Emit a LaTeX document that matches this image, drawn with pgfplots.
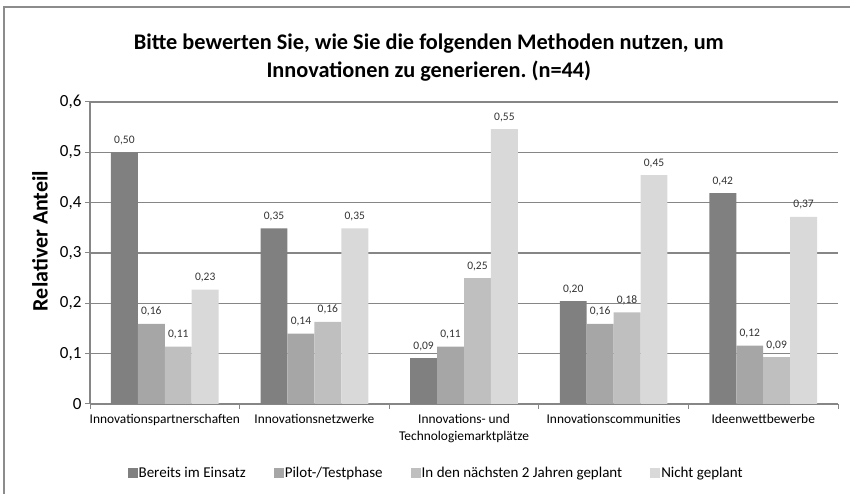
\documentclass[border=0pt]{standalone}
\usepackage{fontspec}
\setmainfont{Carlito}
\usepackage{pgfplots}
\pgfplotsset{compat=1.18}

\definecolor{barA}{RGB}{128,128,128}
\definecolor{barB}{RGB}{166,166,166}
\definecolor{barC}{RGB}{191,191,191}
\definecolor{barD}{RGB}{217,217,217}
\definecolor{linegray}{RGB}{134,134,134}
\definecolor{framegray}{RGB}{140,140,140}

\pgfplotsset{/pgf/number format/assume math mode=true}
\frenchspacing

\begin{document}
\begin{tikzpicture}[x=1pt,y=1pt]
\path[use as bounding box] (0,0) rectangle (850,494);
\draw[framegray, line width=1.3pt] (4,0) -- (4,487) -- (850,487);
\begin{axis}[
  at={(90pt,90pt)}, anchor=south west,
  width=748pt, height=302pt, scale only axis,
  ybar=0pt, bar width=0.18,
  xmin=-0.5, xmax=4.5, ymin=0, ymax=0.6,
  enlargelimits=false,
  axis x line*=bottom, axis y line*=left,
  axis line style={linegray, line width=1.2pt},
  xtick={0,1,2,3,4},
  xticklabels={Innovationspartnerschaften, Innovationsnetzwerke,
    {Innovations- und\\Technologiemarktplätze}, Innovationscommunities, Ideenwettbewerbe},
  x tick label style={font=\fontsize{13.4}{17}\selectfont, align=center, anchor=north, yshift=-2pt},
  major x tick style={draw=none},
  minor xtick={-0.5,0.5,1.5,2.5,3.5,4.5},
  minor x tick style={linegray, line width=1pt},
  ytick={0,0.1,...,0.6},
  y tick style={linegray, line width=1pt},
  tick align=outside,
  major tick length=5pt, minor tick length=5pt,
  yticklabel style={font=\fontsize{17}{20}\selectfont,
    /pgf/number format/.cd, fixed, precision=1, use comma},
  ymajorgrids=true,
  grid style={linegray, line width=1.2pt},
  ylabel={Relativer Anteil},
  ylabel style={font=\bfseries\fontsize{22}{24}\selectfont, rotate=0,
    at={(axis description cs:-0.067,0.54)}, anchor=center},
  title={Bitte bewerten Sie, wie Sie die folgenden Methoden nutzen, um\\Innovationen zu generieren. (n=44)},
  title style={font=\bfseries\fontsize{22.3}{28}\selectfont, align=center,
    at={(axis description cs:0.453,1.127)}, anchor=center},
  legend columns=4,
  legend style={at={(axis description cs:0.462,-0.228)}, anchor=center,
    draw=none, fill=none, font=\fontsize{15}{18}\selectfont,
    nodes={inner sep=1pt},
    /tikz/every even column/.append style={column sep=27pt}},
  nodes near coords={\pgfmathprintnumber[fixed,fixed zerofill,precision=2,use comma]{\pgfplotspointmeta}},
  every node near coord/.append style={font=\fontsize{11.5}{13}\selectfont, black!80, yshift=4pt},
  clip=false,
]
\addplot[fill=barA, draw=none,
  legend image code/.code={\fill[barA] (0pt,-5pt) rectangle (10pt,5pt);}]
  coordinates {(0,0.5) (1,0.349) (2,0.091) (3,0.2045) (4,0.419)};
\addplot[fill=barB, draw=none,
  legend image code/.code={\fill[barB] (0pt,-5pt) rectangle (10pt,5pt);}]
  coordinates {(0,0.159) (1,0.140) (2,0.114) (3,0.159) (4,0.116)};
\addplot[fill=barC, draw=none,
  legend image code/.code={\fill[barC] (0pt,-5pt) rectangle (10pt,5pt);}]
  coordinates {(0,0.114) (1,0.163) (2,0.25) (3,0.182) (4,0.093)};
\addplot[fill=barD, draw=none,
  legend image code/.code={\fill[barD] (0pt,-5pt) rectangle (10pt,5pt);}]
  coordinates {(0,0.227) (1,0.349) (2,0.546) (3,0.4545) (4,0.372)};
\legend{Bereits im Einsatz, Pilot-/Testphase, In den nächsten 2 Jahren geplant, Nicht geplant}
\end{axis}
\end{tikzpicture}
\end{document}
